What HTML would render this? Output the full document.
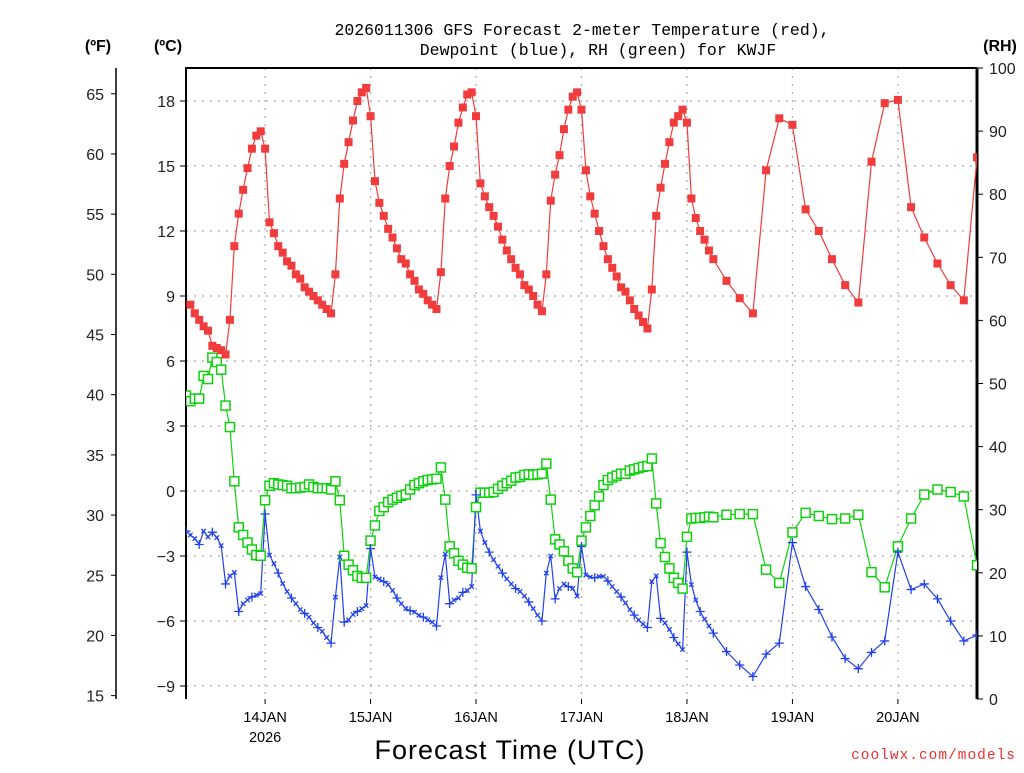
<!DOCTYPE html>
<html><head><meta charset="utf-8"><style>
body{margin:0;background:#fff;}
svg text{font-family:"Liberation Sans",sans-serif;}
</style></head><body>
<svg id="chart" width="1024" height="768" viewBox="0 0 1024 768" xmlns="http://www.w3.org/2000/svg">
<rect width="1024" height="768" fill="#fff"/>
<g font-size="16.5" text-anchor="middle" fill="#000">
<text x="582" y="35" style="font-family:'Liberation Mono',monospace">2026011306 GFS Forecast 2-meter Temperature (red),</text>
<text x="598" y="55" style="font-family:'Liberation Mono',monospace">Dewpoint (blue), RH (green) for KWJF</text>
</g>
<text x="98" y="51" font-size="16" font-weight="bold" text-anchor="middle">(ºF)</text>
<text x="168" y="51" font-size="16" font-weight="bold" text-anchor="middle">(ºC)</text>
<text x="1000" y="51" font-size="16" font-weight="bold" text-anchor="middle">(RH)</text>
<g id="grid"></g>
<g id="axes"></g>
<g id="series"></g>
<text x="510" y="759" font-size="27" text-anchor="middle" letter-spacing="1">Forecast Time (UTC)</text>
<text x="1016" y="759" font-size="14.5" fill="#f03030" text-anchor="end" letter-spacing="1" style="font-family:'Liberation Mono',monospace">coolwx.com/models</text>
</svg>
<script>
const tempC=[null,8.6,8.2,7.9,7.6,7.4,6.7,6.6,6.5,6.3,7.9,11.3,12.8,13.9,14.9,15.8,16.4,16.6,15.8,12.4,11.9,11.3,11.0,10.6,10.4,10.0,9.8,9.4,9.2,9.0,8.8,8.6,8.4,8.2,10.0,13.5,15.1,16.1,17.1,18.0,18.4,18.6,17.3,14.3,13.3,12.7,12.1,11.7,11.2,10.7,10.5,10.0,9.7,9.3,9.1,8.8,8.6,8.4,10.1,13.5,15.0,15.9,17.0,17.7,18.3,18.4,17.3,14.2,13.6,13.1,12.7,12.2,11.6,11.1,10.7,10.3,10.0,9.5,9.3,9.0,8.6,8.3,10.0,13.4,14.6,15.5,16.7,17.6,18.2,18.4,17.6,14.8,13.6,12.8,12.0,11.3,10.7,10.3,9.9,9.4,9.2,8.8,8.4,8.1,7.8,7.5,9.3,12.7,14.0,15.1,16.1,17.0,17.3,17.6,17.0,13.5,12.6,12.0,11.6,11.1,10.7,9.7,8.9,8.2,14.8,17.2,16.9,13.0,12.0,10.7,9.5,8.7,15.2,17.9,18.05,13.1,11.7,10.5,9.5,8.8,15.4];
const dewC=[-1.85,-2.03,-2.2,-2.47,-1.85,-2.12,-1.9,-2.15,-2.52,-4.29,-3.92,-3.76,-5.56,-5.2,-5.03,-4.89,-4.8,-4.73,-1.06,-2.96,-3.35,-3.79,-4.27,-4.64,-4.94,-5.2,-5.47,-5.65,-5.82,-6.09,-6.3,-6.48,-6.76,-7.02,-4.9,-3.05,-6.05,-5.95,-5.7,-5.56,-5.43,-5.29,-2.66,-3.97,-4.06,-4.18,-4.32,-4.59,-4.94,-5.2,-5.42,-5.52,-5.59,-5.73,-5.82,-5.95,-6.05,-6.23,-4.0,-2.91,-5.2,-5.03,-4.94,-4.68,-4.59,-4.41,-0.18,-1.85,-2.38,-2.82,-3.18,-3.48,-3.79,-4.06,-4.29,-4.5,-4.64,-4.85,-5.12,-5.43,-5.73,-6.0,-3.79,-3.0,-4.98,-4.5,-4.29,-4.41,-4.5,-4.85,-2.56,-3.88,-3.97,-4.0,-3.94,-3.94,-4.15,-4.41,-4.64,-4.89,-5.17,-5.47,-5.73,-5.95,-6.14,-6.3,-4.18,-3.92,-5.88,-6.09,-6.39,-6.76,-7.06,-7.32,-2.82,-4.32,-5.03,-5.56,-5.91,-6.23,-6.56,-7.41,-8.03,-8.56,-7.53,-7.02,-2.38,-4.41,-5.47,-6.74,-7.73,-8.2,-7.45,-6.92,-2.82,-4.55,-4.29,-4.98,-6.0,-6.92,-6.65];
const rhPct=[48.1,47.2,47.6,47.6,51.2,50.7,54.1,53.4,52.2,46.5,43.1,34.5,27.2,26.0,24.8,23.7,22.8,22.7,31.5,33.8,34.2,34.0,33.9,33.8,33.4,33.4,33.5,33.6,34.0,33.6,33.4,33.4,33.4,33.2,34.5,31.5,22.7,21.3,20.4,19.5,19.2,19.2,25.1,27.5,29.8,30.4,31.2,31.6,31.9,32.2,32.4,33.2,33.9,34.2,34.5,34.7,34.8,34.9,36.7,31.6,24.2,23.1,21.9,21.3,20.8,20.7,30.4,32.7,32.7,32.7,32.8,33.3,33.8,34.2,34.6,35.1,35.2,35.5,35.6,35.5,35.6,35.7,37.3,31.6,25.3,24.5,23.4,21.9,20.7,20.1,25.1,27.2,29.0,30.7,32.1,33.9,34.7,35.1,35.4,35.7,35.7,36.2,36.4,36.6,36.8,36.9,38.1,31.0,24.7,22.5,20.7,19.2,18.4,17.5,25.7,28.6,28.7,28.7,28.8,28.9,28.8,29.2,29.3,29.3,20.5,18.4,26.4,29.5,29.0,28.5,28.6,29.2,20.1,17.7,24.2,28.6,32.4,33.2,32.8,32.1,21.2];
const dayLabels=["14JAN","15JAN","16JAN","17JAN","18JAN","19JAN","20JAN"];
const cTicks=[-9,-6,-3,0,3,6,9,12,15,18];
const fTicks=[15,20,25,30,35,40,45,50,55,60,65];
const rhTicks=[0,10,20,30,40,50,60,70,80,90,100];

const NS="http://www.w3.org/2000/svg";
const L=186,R=977,T=68,B=699;
const hours=[];for(let h=0;h<=120;h++)hours.push(h);for(let h=123;h<=180;h+=3)hours.push(h);
function xH(h){return L+h*(R-L)/180;}
function yC(c){return 491-c*21.667;}
function yF(f){return yC((f-32)*5/9);}
function yRH(r){return B-r*(B-T)/100;}
function mk(tag,at,parent){const e=document.createElementNS(NS,tag);for(const k in at)e.setAttribute(k,at[k]);parent.appendChild(e);return e;}
const grid=document.getElementById('grid'),axes=document.getElementById('axes'),ser=document.getElementById('series');
cTicks.forEach(c=>{const l=mk('line',{x1:L,x2:R,y1:yC(c),y2:yC(c),stroke:'#aaa','stroke-width':1.2,'stroke-dasharray':'2,6'},grid);

});
dayLabels.forEach((d,i)=>{const x=xH(18+24*i);const l=mk('line',{x1:x,x2:x,y1:T,y2:B,stroke:'#aaa','stroke-width':1.2,'stroke-dasharray':'2,6'},grid);


const t=mk('text',{x:x,y:722,'font-size':14.5,'text-anchor':'middle'},axes);t.textContent=d;


const tk=mk('line',{x1:x,x2:x,y1:B,y2:B+5,stroke:'#000'},axes);

});
{const t=mk('text',{x:xH(18),y:742,'font-size':14.5,'text-anchor':'middle'},axes);t.textContent='2026';

}
{const f=mk('path',{d:`M${L},${B}L${L},${T}L${R},${T}`,fill:'none',stroke:'#000','stroke-width':2},axes);


const r=mk('line',{x1:R,x2:R,y1:T,y2:B,stroke:'#000','stroke-width':3},axes);


const fl=mk('line',{x1:116,x2:116,y1:T,y2:B,stroke:'#000','stroke-width':1.5},axes);

}
cTicks.forEach(c=>{const y=yC(c);const tk=mk('line',{x1:L-6,x2:L,y1:y,y2:y,stroke:'#000'},axes);


const t=mk('text',{x:L-11,y:y+6,'font-size':16,'text-anchor':'end',fill:'#222'},axes);t.textContent=(c<0?'\u2212':'')+Math.abs(c);

});
fTicks.forEach(f=>{const y=yF(f);const tk=mk('line',{x1:111,x2:116,y1:y,y2:y,stroke:'#000'},axes);


const t=mk('text',{x:104,y:y+6,'font-size':16,'text-anchor':'end',fill:'#222'},axes);t.textContent=f;

});
rhTicks.forEach(r=>{const y=yRH(r);const tk=mk('line',{x1:R,x2:R+6,y1:y,y2:y,stroke:'#000'},axes);


const t=mk('text',{x:989,y:y+6,'font-size':16,fill:'#222'},axes);t.textContent=r;

});
const defs=mk('defs',{},ser);const cp=mk('clipPath',{id:'pc'},defs);mk('rect',{x:L,y:T,width:R-L,height:B-T},cp);
ser.setAttribute('clip-path','url(#pc)');
function line(vals,yf,color,name){const pts=[];vals.forEach((v,i)=>{if(v!==null)pts.push(xH(hours[i]).toFixed(1)+','+yf(v).toFixed(1));});
const p=mk('polyline',{points:pts.join(' '),fill:'none',stroke:color,'stroke-width':1.2},ser);

}
line(rhPct,yRH,'#10d010','rh-line');
line(dewC,yC,'#2040f0','dewpoint-line');
line(tempC,yC,'#f03c3c','temperature-line');
rhPct.forEach((v,i)=>{const x=xH(hours[i]),y=yRH(v);const m=mk('rect',{x:x-4.5,y:y-4.5,width:9,height:9,fill:'#fff',stroke:'#10d010','stroke-width':1.5},ser);

});
dewC.forEach((v,i)=>{const x=xH(hours[i]),y=yC(v);const big=(hours[i]%3===0);const s=big?4.5:2.2;
const d=big?`M${x-s},${y}H${x+s}M${x},${y-s}V${y+s}`:`M${x-s},${y-s}L${x+s},${y+s}M${x-s},${y+s}L${x+s},${y-s}`;
const m=mk('path',{d:d,stroke:'#2040f0','stroke-width':1.3},ser);

});
tempC.forEach((v,i)=>{if(v===null)return;const x=xH(hours[i]),y=yC(v);const m=mk('rect',{x:x-4,y:y-4,width:8,height:8,fill:'#f03c3c'},ser);

});
</script>
</body></html>
